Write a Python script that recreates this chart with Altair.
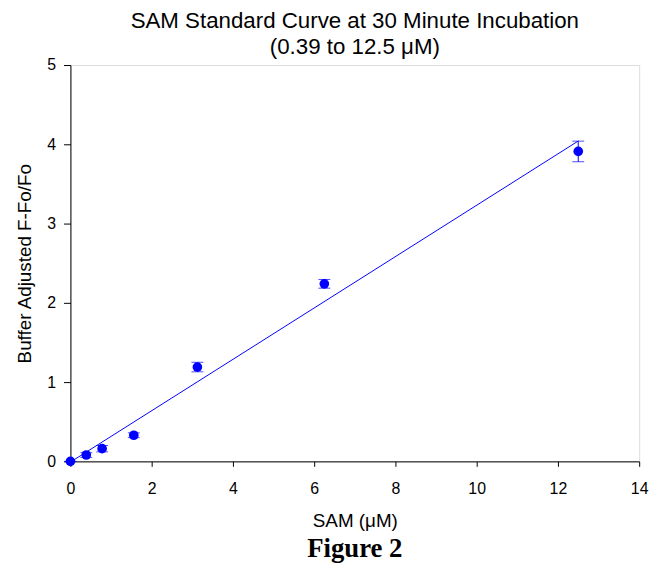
import altair as alt
import pandas as pd

# Data
sam_conc = [0, 0.39, 0.78, 1.56, 3.125, 6.25, 12.5]
f_ratio = [0.0, 0.08, 0.16, 0.33, 1.19, 2.24, 3.91]
f_err = [0.0, 0.03, 0.04, 0.03, 0.06, 0.055, 0.13]

x_ticks = [0, 2, 4, 6, 8, 10, 12, 14]
y_ticks = [0, 1, 2, 3, 4, 5]

title_lines = ["SAM Standard Curve at 30 Minute Incubation", "(0.39 to 12.5 \u03bcM)"]
x_title = "SAM (\u03bcM)"
y_title = "Buffer Adjusted F-Fo/Fo"
caption = ["Figure 2"]

df = pd.DataFrame({"sam": sam_conc, "val": f_ratio, "err": f_err})
df["lo"] = df["val"] - df["err"]
df["hi"] = df["val"] + df["err"]

BLUE = "#0000FF"
FONT = "Liberation Sans"

xscale = alt.Scale(domain=[0, 14], nice=False, zero=False)
yscale = alt.Scale(domain=[0, 5], nice=False)

xaxis = alt.Axis(values=x_ticks, title=x_title, format="d", grid=False,
                 tickSize=5, labelPadding=14, titlePadding=16,
                 labelFontSize=16, titleFontSize=19, titleFontWeight="normal",
                 labelFont=FONT, titleFont=FONT, labelColor="black", titleColor="black",
                 domainColor="black", tickColor="black", labelFlush=False)
yaxis = alt.Axis(values=y_ticks, title=y_title, format="d", grid=False,
                 tickSize=7, labelPadding=8, titlePadding=12,
                 labelFontSize=16, titleFontSize=19, titleFontWeight="normal",
                 labelFont=FONT, titleFont=FONT, labelColor="black", titleColor="black",
                 domainColor="black", tickColor="black", labelFlush=False)

base = alt.Chart(df)

fit = base.transform_regression("sam", "val", extent=[0, 12.5]).mark_line(
    color=BLUE, strokeWidth=1, clip=True
).encode(
    x=alt.X("sam:Q", scale=xscale, axis=xaxis),
    y=alt.Y("val:Q", scale=yscale, axis=yaxis),
)

bars = base.mark_rule(color=BLUE, strokeWidth=1).encode(
    x=alt.X("sam:Q", scale=xscale),
    y=alt.Y("lo:Q", scale=yscale),
    y2="hi:Q",
)
caps_hi = base.mark_tick(color=BLUE, orient="horizontal", size=12, thickness=1).encode(
    x=alt.X("sam:Q", scale=xscale),
    y=alt.Y("hi:Q", scale=yscale),
)
caps_lo = base.mark_tick(color=BLUE, orient="horizontal", size=12, thickness=1).encode(
    x=alt.X("sam:Q", scale=xscale),
    y=alt.Y("lo:Q", scale=yscale),
)
points = base.mark_point(filled=True, color=BLUE, size=95, opacity=1, clip=False).encode(
    x=alt.X("sam:Q", scale=xscale),
    y=alt.Y("val:Q", scale=yscale),
)

fig = alt.Chart(pd.DataFrame({"t": caption})).mark_text(
    font="Liberation Serif", fontWeight="bold", fontSize=27, color="black",
    align="center", baseline="alphabetic"
).encode(
    x=alt.value(287), y=alt.value(497), text="t:N"
)

chart = alt.layer(fit, bars, caps_hi, caps_lo, points, fig).properties(
    width=574, height=400,
    title=alt.TitleParams(text=title_lines, fontSize=22.5, fontWeight="normal",
                          font=FONT, color="black", anchor="middle",
                          lineHeight=26, offset=-1),
    autosize=alt.AutoSizeParams(type="none"),
    padding={"left": 63, "top": 55, "right": 20, "bottom": 100},
).configure_view(
    stroke="black", strokeWidth=1
).configure(background="white")

chart.save("out.html", embed_options={"renderer": "svg", "actions": False})
